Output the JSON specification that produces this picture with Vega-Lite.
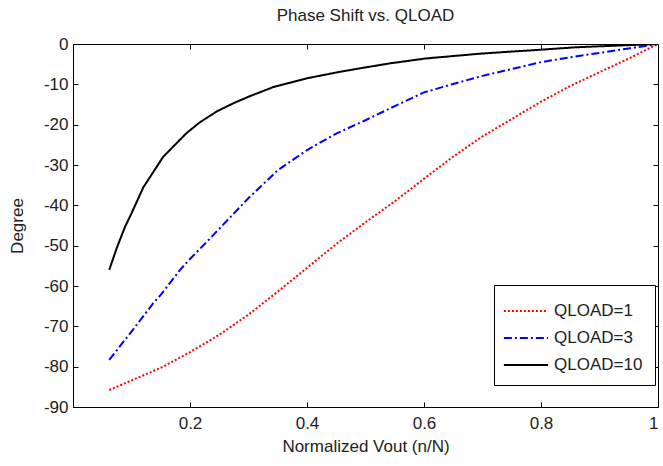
{
  "$schema": "https://vega.github.io/schema/vega-lite/v6.json",
  "autosize": {"type": "none"},
  "width": 585,
  "height": 363,
  "padding": {"left": 73, "top": 44, "right": 5, "bottom": 59},
  "background": "white",
  "config": {
    "font": "Liberation Sans",
    "view": {"stroke": "black", "strokeWidth": 1},
    "axis": {"grid": false, "domainColor": "black", "tickColor": "black", "labelColor": "#222", "titleColor": "#222", "labelFont": "Liberation Sans", "titleFont": "Liberation Sans", "titleFontWeight": "normal"}
  },
  "title": {"text": "Phase Shift vs. QLOAD", "fontSize": 17, "fontWeight": "normal", "font": "Liberation Sans", "color": "#222", "offset": 10},
  "data": {"values": [
    {"x": 0.062, "y": -85.8, "s": "QLOAD=1"},
    {"x": 0.10, "y": -83.4, "s": "QLOAD=1"},
    {"x": 0.15, "y": -80.3, "s": "QLOAD=1"},
    {"x": 0.20, "y": -76.4, "s": "QLOAD=1"},
    {"x": 0.25, "y": -72.1, "s": "QLOAD=1"},
    {"x": 0.30, "y": -67.1, "s": "QLOAD=1"},
    {"x": 0.35, "y": -61.4, "s": "QLOAD=1"},
    {"x": 0.40, "y": -55.5, "s": "QLOAD=1"},
    {"x": 0.45, "y": -49.6, "s": "QLOAD=1"},
    {"x": 0.50, "y": -44.2, "s": "QLOAD=1"},
    {"x": 0.55, "y": -39.0, "s": "QLOAD=1"},
    {"x": 0.60, "y": -33.4, "s": "QLOAD=1"},
    {"x": 0.65, "y": -27.9, "s": "QLOAD=1"},
    {"x": 0.70, "y": -22.9, "s": "QLOAD=1"},
    {"x": 0.75, "y": -18.6, "s": "QLOAD=1"},
    {"x": 0.80, "y": -14.3, "s": "QLOAD=1"},
    {"x": 0.85, "y": -10.4, "s": "QLOAD=1"},
    {"x": 0.90, "y": -7.0, "s": "QLOAD=1"},
    {"x": 0.95, "y": -3.6, "s": "QLOAD=1"},
    {"x": 1.0, "y": 0, "s": "QLOAD=1"},
    {"x": 0.062, "y": -78.3, "s": "QLOAD=3"},
    {"x": 0.10, "y": -71.3, "s": "QLOAD=3"},
    {"x": 0.137, "y": -64.3, "s": "QLOAD=3"},
    {"x": 0.15, "y": -62.2, "s": "QLOAD=3"},
    {"x": 0.183, "y": -56.0, "s": "QLOAD=3"},
    {"x": 0.20, "y": -53.3, "s": "QLOAD=3"},
    {"x": 0.229, "y": -49.0, "s": "QLOAD=3"},
    {"x": 0.25, "y": -45.8, "s": "QLOAD=3"},
    {"x": 0.30, "y": -38.2, "s": "QLOAD=3"},
    {"x": 0.35, "y": -31.3, "s": "QLOAD=3"},
    {"x": 0.40, "y": -26.3, "s": "QLOAD=3"},
    {"x": 0.45, "y": -22.2, "s": "QLOAD=3"},
    {"x": 0.50, "y": -18.9, "s": "QLOAD=3"},
    {"x": 0.55, "y": -15.4, "s": "QLOAD=3"},
    {"x": 0.60, "y": -12.0, "s": "QLOAD=3"},
    {"x": 0.65, "y": -9.9, "s": "QLOAD=3"},
    {"x": 0.70, "y": -7.9, "s": "QLOAD=3"},
    {"x": 0.75, "y": -6.2, "s": "QLOAD=3"},
    {"x": 0.80, "y": -4.5, "s": "QLOAD=3"},
    {"x": 0.85, "y": -3.3, "s": "QLOAD=3"},
    {"x": 0.90, "y": -2.2, "s": "QLOAD=3"},
    {"x": 0.95, "y": -1.1, "s": "QLOAD=3"},
    {"x": 1.0, "y": 0, "s": "QLOAD=3"},
    {"x": 0.062, "y": -56.0, "s": "QLOAD=10"},
    {"x": 0.075, "y": -50.5, "s": "QLOAD=10"},
    {"x": 0.089, "y": -45.3, "s": "QLOAD=10"},
    {"x": 0.10, "y": -42.0, "s": "QLOAD=10"},
    {"x": 0.12, "y": -35.6, "s": "QLOAD=10"},
    {"x": 0.154, "y": -28.0, "s": "QLOAD=10"},
    {"x": 0.194, "y": -22.1, "s": "QLOAD=10"},
    {"x": 0.217, "y": -19.4, "s": "QLOAD=10"},
    {"x": 0.246, "y": -16.7, "s": "QLOAD=10"},
    {"x": 0.274, "y": -14.7, "s": "QLOAD=10"},
    {"x": 0.303, "y": -12.9, "s": "QLOAD=10"},
    {"x": 0.342, "y": -10.7, "s": "QLOAD=10"},
    {"x": 0.40, "y": -8.5, "s": "QLOAD=10"},
    {"x": 0.456, "y": -6.9, "s": "QLOAD=10"},
    {"x": 0.50, "y": -5.8, "s": "QLOAD=10"},
    {"x": 0.542, "y": -4.8, "s": "QLOAD=10"},
    {"x": 0.602, "y": -3.6, "s": "QLOAD=10"},
    {"x": 0.696, "y": -2.4, "s": "QLOAD=10"},
    {"x": 0.747, "y": -1.9, "s": "QLOAD=10"},
    {"x": 0.781, "y": -1.6, "s": "QLOAD=10"},
    {"x": 0.861, "y": -0.8, "s": "QLOAD=10"},
    {"x": 0.93, "y": -0.4, "s": "QLOAD=10"},
    {"x": 1.0, "y": 0, "s": "QLOAD=10"}
  ]},
  "layer": [
    {
      "mark": {"type": "line", "strokeWidth": 2, "clip": true},
      "encoding": {
        "x": {"field": "x", "type": "quantitative", "scale": {"domain": [0, 1], "nice": false},
          "axis": {"orient": "bottom", "values": [0.2, 0.4, 0.6, 0.8, 1], "labelExpr": "'' + datum.value", "tickSize": -5, "labelPadding": 13, "labelFontSize": 17, "title": "Normalized Vout (n/N)", "titleFontSize": 17, "titlePadding": 7}},
        "y": {"field": "y", "type": "quantitative", "scale": {"domain": [-90, 0], "nice": false},
          "axis": {"orient": "left", "values": [-90, -80, -70, -60, -50, -40, -30, -20, -10, 0], "labelExpr": "'' + datum.value", "tickSize": -5, "labelPadding": 10, "labelFontSize": 17, "title": "Degree", "titleFontSize": 17, "titlePadding": 17}},
        "color": {"field": "s", "type": "nominal", "sort": ["QLOAD=1", "QLOAD=3", "QLOAD=10"],
          "scale": {"domain": ["QLOAD=1", "QLOAD=3", "QLOAD=10"], "range": ["#ff0000", "#0000ff", "#000000"]},
          "legend": {"title": null, "orient": "none", "legendX": 421, "legendY": 241, "symbolType": "M-1.7,0H1.7", "symbolSize": 676, "symbolOffset": 6, "symbolStrokeWidth": 2, "labelFontSize": 17, "labelColor": "#222", "labelFont": "Liberation Sans", "strokeColor": "black", "fillColor": "white", "padding": 12, "rowPadding": 5, "labelOffset": 14}},
        "strokeDash": {"field": "s", "type": "nominal", "sort": ["QLOAD=1", "QLOAD=3", "QLOAD=10"],
          "scale": {"domain": ["QLOAD=1", "QLOAD=3", "QLOAD=10"], "range": [[2, 2], [8, 3, 2, 3], [1, 0]]},
          "legend": null}
      }
    },
    {
      "mark": {"type": "line", "opacity": 0},
      "encoding": {
        "x": {"field": "x", "type": "quantitative", "axis": {"orient": "top", "values": [0.2, 0.4, 0.6, 0.8], "labels": false, "tickSize": -5, "title": null, "domain": false}},
        "y": {"field": "y", "type": "quantitative", "axis": {"orient": "right", "values": [-80, -70, -60, -50, -40, -30, -20, -10], "labels": false, "tickSize": -5, "title": null, "domain": false}}
      }
    }
  ],
  "resolve": {"axis": {"x": "independent", "y": "independent"}}
}
